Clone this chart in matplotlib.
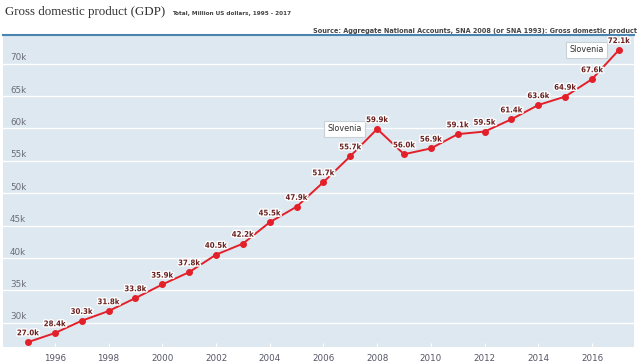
import matplotlib.pyplot as plt
import matplotlib.patheffects as pe

# Slovenia GDP, million US dollars
years = list(range(1995, 2018))
gdp = [27.0, 28.4, 30.3, 31.8, 33.8, 35.9, 37.8, 40.5, 42.2, 45.5, 47.9, 51.7,
       55.7, 59.9, 56.0, 56.9, 59.1, 59.5, 61.4, 63.6, 64.9, 67.6, 72.1]
gdp_labels = ['%.1fk' % v for v in gdp]
y_ticks = [30, 35, 40, 45, 50, 55, 60, 65, 70]
x_ticks = list(range(1996, 2018, 2))
callout_years = [2008, 2017]

fig = plt.figure(figsize=(6.4, 3.64), dpi=100)
ax = fig.add_axes([0.0047, 0.0467, 0.9859, 0.8571])
ax.set_facecolor('#dde8f0')

ax.plot(years, gdp, color='#e3202a', lw=1.4, marker='o', ms=4, zorder=3)
ax.set_xlim(1994.07, 2017.56)
ax.set_ylim(26.25, 74.4)

# grid + y labels sitting just above the lines
for t in y_ticks:
    ax.axhline(t, color='white', lw=1, zorder=1)
    ax.text(0.011, t + 0.2, '%dk' % t, transform=ax.get_yaxis_transform(),
            fontsize=6.3, color='#6b6b7b', va='bottom', ha='left')

ax.set_yticks([])
ax.set_xticks(x_ticks)
ax.set_xticklabels([str(x) for x in x_ticks], fontsize=6.3, color='#555566')
ax.tick_params(axis='x', direction='in', length=3, color='white', pad=5)

for s in ['left', 'right', 'bottom']:
    ax.spines[s].set_visible(False)
ax.spines['top'].set_color('#4a84b0')
ax.spines['top'].set_linewidth(1.5)

halo = [pe.withStroke(linewidth=2, foreground='white')]
for x, y, lab in zip(years, gdp, gdp_labels):
    ax.annotate(lab, (x, y), xytext=(0, 3.5), textcoords='offset points',
                ha='center', va='bottom', fontsize=5.6, fontweight='bold',
                stretch='condensed', color='#6a1f1f', path_effects=halo, zorder=4)

# "Slovenia" callouts, drawn under the value labels
for yr in callout_years:
    v = gdp[years.index(yr)]
    ax.annotate('Slovenia', (yr, v), xytext=(-11, 0), textcoords='offset points',
                ha='right', va='center', fontsize=5.8, color='#333333',
                bbox=dict(boxstyle='square,pad=0.4', fc='white', ec='#c8d0d8', lw=0.8),
                zorder=3.5)

fig.text(0.008, 0.966, 'Gross domestic product (GDP)', family='Liberation Serif',
         fontsize=9.3, color='#333333', va='center', ha='left')
fig.text(0.268, 0.963, 'Total, Million US dollars, 1995 - 2017',
         family='DejaVu Sans', stretch='condensed', fontsize=4.6,
         fontweight='bold', color='#444444', va='center', ha='left')
fig.text(0.995, 0.915, 'Source: Aggregate National Accounts, SNA 2008 (or SNA 1993): Gross domestic product',
         family='DejaVu Sans', stretch='condensed', fontsize=5.2,
         fontweight='bold', color='#444444', va='center', ha='right')

fig.savefig('out.png', dpi=100)
